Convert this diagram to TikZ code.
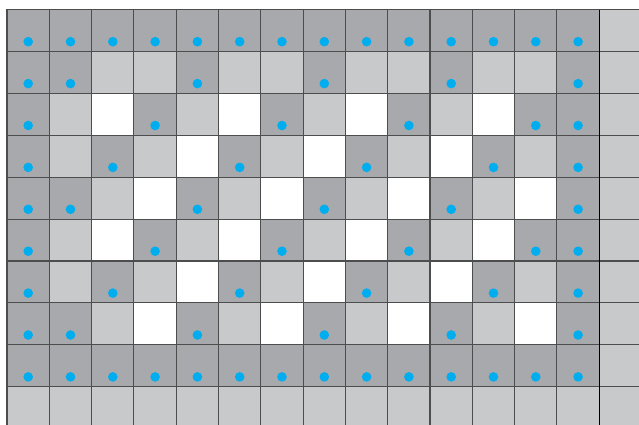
\documentclass[tikz,border=0pt]{standalone}
\definecolor{cdark}{HTML}{A7A9AC}
\definecolor{clight}{HTML}{C8C9CB}
\definecolor{cline}{HTML}{4D4D4D}
\definecolor{cdot}{HTML}{00AEEF}
\tikzset{
  cell/.style={draw=cline, line width=0.8pt},
  cell0/.style={cell, fill=white},
  cell1/.style={cell, fill=clight},
  cell2/.style={cell, fill=cdark},
  bluedot/.style={fill=cdot, draw=none},
}

\begin{document}
\begin{tikzpicture}[x=0.025cm, y=-0.025cm]
  \useasboundingbox (0,0) rectangle (639,425);
  \clip (0,0) rectangle (639,425);
  % 0 = white, 1 = light, 2 = dark with dot
  \foreach \r/\codes in {
      0/{2,2,2,2,2,2,2,2,2,2,2,2,2,2,1},
      1/{2,2,1,1,2,1,1,2,1,1,2,1,1,2,1},
      2/{2,1,0,2,1,0,2,1,0,2,1,0,2,2,1},
      3/{2,1,2,1,0,2,1,0,2,1,0,2,1,2,1},
      4/{2,2,1,0,2,1,0,2,1,0,2,1,0,2,1},
      5/{2,1,0,2,1,0,2,1,0,2,1,0,2,2,1},
      6/{2,1,2,1,0,2,1,0,2,1,0,2,1,2,1},
      7/{2,2,1,0,2,1,0,2,1,0,2,1,0,2,1},
      8/{2,2,2,2,2,2,2,2,2,2,2,2,2,2,1},
      9/{1,1,1,1,1,1,1,1,1,1,1,1,1,1,1}}{
    \foreach \k [count=\c from 0] in \codes {
      \path[cell\k] ({7+42.3*\c},{9.6+41.9*\r}) rectangle ++(42.3,41.9);
      \ifnum\k=2
        \path[bluedot] ({28.2+42.3*\c},{41.7+41.9*\r}) circle (0.12cm);
      \fi
    }
  }
  \draw[black, line width=0.8pt] (599.2,9.6) -- (599.2,425);
\end{tikzpicture}
\end{document}
